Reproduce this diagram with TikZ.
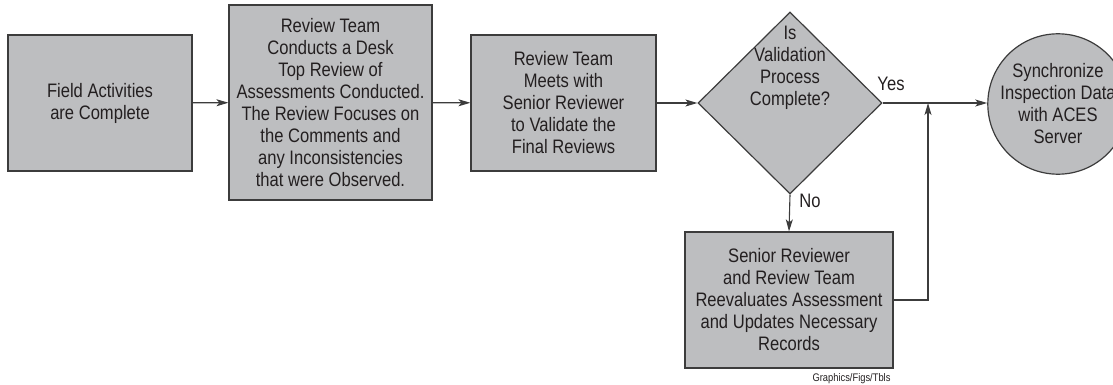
\documentclass[tikz,border=0pt]{standalone}
\usepackage{fontspec}
\setmainfont{Liberation Sans}[FakeStretch=0.85]
\usetikzlibrary{shapes.geometric,arrows.meta}

\definecolor{boxfill}{HTML}{BDBEC0}
\definecolor{edge}{HTML}{3C3C3C}
\definecolor{ink}{HTML}{231F20}

\tikzset{
  every node/.style={text=ink, font=\fontsize{19.5}{22}\selectfont, align=center},
  stepbox/.style={rectangle, draw=edge, fill=boxfill, line width=1.2pt, inner sep=0pt},
  decision/.style={diamond, draw=edge, fill=boxfill, line width=1.2pt, inner sep=0pt,
                   minimum width=184pt, minimum height=182pt},
  terminal/.style={circle, draw=edge, fill=boxfill, line width=1.2pt, inner sep=0pt,
                   minimum size=140pt},
  flow/.style={draw=edge, line width=1.1pt, -{Stealth[length=12pt,width=7pt,inset=3pt]}},
  note/.style={font=\fontsize{11}{12}\selectfont}
}

\begin{document}
\begin{tikzpicture}[x=1pt, y=-1pt]
  \useasboundingbox (0,0) rectangle (1113,385);
  \clip (0,0) rectangle (1113,385);

  % process steps
  \node[stepbox, minimum width=184pt, minimum height=136pt] (field) at (100,103)
    {Field Activities\\are Complete};
  \node[stepbox, minimum width=203pt, minimum height=195pt] (desk) at (330.5,102.5)
    {Review Team\\Conducts a Desk\\Top Review of\\Assessments Conducted.\\The Review Focuses on\\the Comments and\\any Inconsistencies\\that were Observed.};
  \node[stepbox, minimum width=185pt, minimum height=136pt] (meet) at (563.5,103)
    {Review Team\\Meets with\\Senior Reviewer\\to Validate the\\Final Reviews};

  % decision
  \node[decision] (check) at (790,103) {};
  \node (checktext) at (790,68) {Is\\Validation\\Process\\Complete?};

  % rework step
  \node[stepbox, minimum width=208pt, minimum height=136pt] (rework) at (789,300)
    {Senior Reviewer\\and Review Team\\Reevaluates Assessment\\and Updates Necessary\\Records};

  % final step
  \node[terminal] (sync) at (1058,104)
    {Synchronize\\Inspection Data\\with ACES\\Server};

  % connectors
  \coordinate (join) at (928,103);
  \draw[flow] (field) -- (desk);
  \draw[flow] (desk) -- (meet);
  \draw[flow] (meet) -- (check);
  \draw[flow] (check.east) -- (sync.west |- check.east);
  \draw[flow] (check.south) -- (rework.north);
  \draw[flow] (rework.east) -| (join);

  % branch labels
  \node (yes) at (891,84) {Yes};
  \node (no) at (810,201) {No};

  % credit line
  \node[note, anchor=east] (credit) at (894,379) {Graphics/Figs/Tbls};
\end{tikzpicture}
\end{document}
